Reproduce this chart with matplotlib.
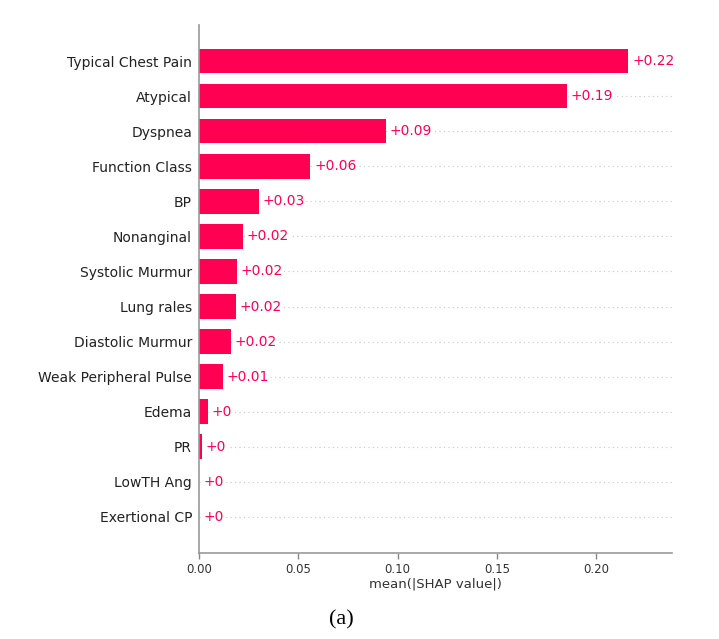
import matplotlib
matplotlib.use("Agg")
import matplotlib.pyplot as plt
import numpy as np

# mean |SHAP| per feature
features = ["Typical Chest Pain", "Atypical", "Dyspnea", "Function Class", "BP",
            "Nonanginal", "Systolic Murmur", "Lung rales", "Diastolic Murmur",
            "Weak Peripheral Pulse", "Edema", "PR", "LowTH Ang", "Exertional CP"]
shap_vals = [0.216, 0.185, 0.094, 0.056, 0.030, 0.022, 0.019, 0.0186, 0.016,
             0.012, 0.0045, 0.0015, 0.0002, 0.0001]
val_labels = ["+0.22", "+0.19", "+0.09", "+0.06", "+0.03", "+0.02", "+0.02", "+0.02",
              "+0.02", "+0.01", "+0", "+0", "+0", "+0"]

red = "#ff0052"

fig = plt.figure(figsize=(7.19, 6.39), dpi=100)
ax = fig.add_axes([0.2768, 0.1346, 0.6578, 0.8263])

y = np.arange(len(features))
for yi in y:
    ax.axhline(yi, color="#c8c8c8", lw=0.8, dashes=(1, 3), zorder=-1)
ax.barh(y, shap_vals, height=0.7, color=red, zorder=2)

xmax = 0.238
for yi, v, lab in zip(y, shap_vals, val_labels):
    ax.text(v + xmax * 0.008, yi, lab, color=red, fontsize=10, va="center", ha="left",
            zorder=3, bbox=dict(facecolor="white", edgecolor="none", pad=1.0))

ax.set_yticks(y)
ax.set_yticklabels(features, fontsize=10, color="#222222")
ax.set_ylim(len(features) - 1 + 1.03, -1.03)
ax.set_xlim(0, xmax)
ax.set_xticks([0.0, 0.05, 0.10, 0.15, 0.20])
ax.set_xticklabels(["0.00", "0.05", "0.10", "0.15", "0.20"])
ax.tick_params(axis="y", length=0, pad=5)
ax.tick_params(axis="x", labelsize=8.5, colors="#333333", length=4, width=1, color="#888888")
ax.set_xlabel("mean(|SHAP value|)", fontsize=9.5, color="#333333", labelpad=1)

for s in ["top", "right"]:
    ax.spines[s].set_visible(False)
for s in ["left", "bottom"]:
    ax.spines[s].set_color("#999999")
    ax.spines[s].set_linewidth(1.2)

fig.text(341 / 719, 1 - 620 / 639, "(a)", family="Liberation Serif", fontsize=16,
         ha="center", va="center")

fig.savefig("out.png", dpi=100)
